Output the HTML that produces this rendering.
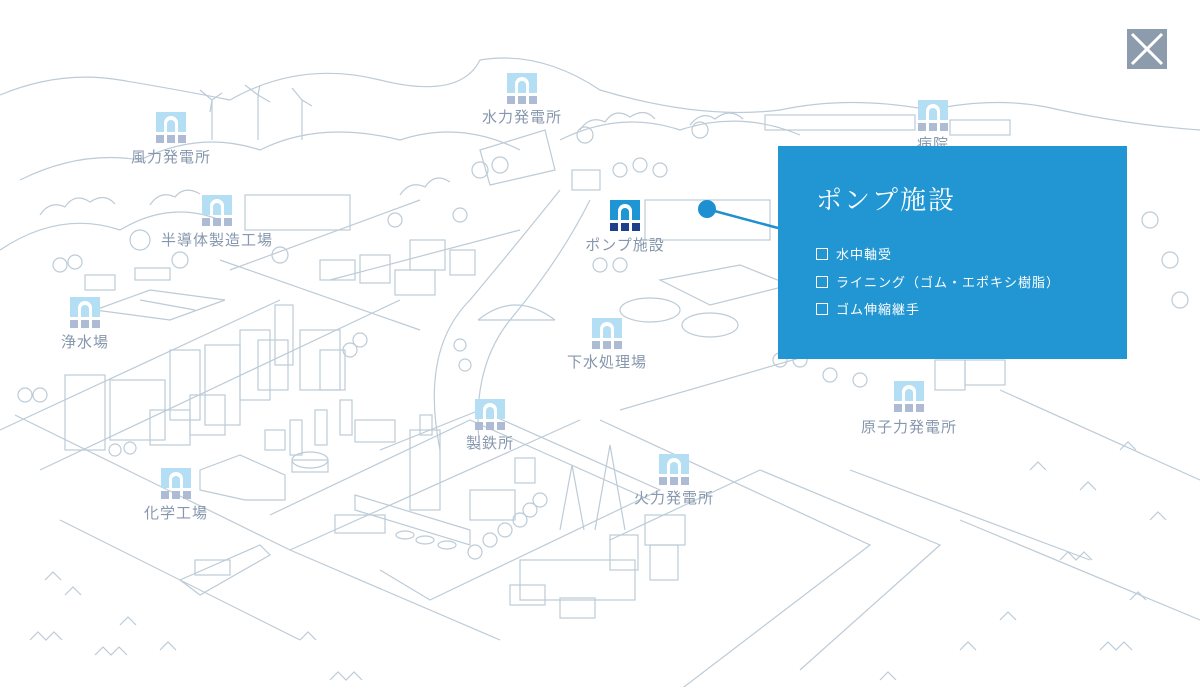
<!DOCTYPE html>
<html><head><meta charset="utf-8"><style>
html,body{margin:0;padding:0;background:#fff;}
#w{position:relative;width:1200px;height:687px;overflow:hidden;background:#fff;font-family:"Liberation Sans","Noto Sans CJK JP",sans-serif;}
.lb{position:absolute;color:#8797ad;font-size:15px;letter-spacing:1px;white-space:nowrap;transform:translateX(-50%);}
.ic{position:absolute;width:30px;height:32px;}
.ic .t{position:absolute;left:0;top:0;width:30px;height:20px;background:#b3def4;}
.ic .t:after{content:"";position:absolute;left:8px;top:4px;width:14px;height:16px;background:#fff;border-radius:7px 7px 0 0;}
.ic .t:before{content:"";position:absolute;left:11px;top:8px;width:8px;height:12px;background:#b3def4;border-radius:4px 4px 0 0;z-index:1;}
.ic .b{position:absolute;top:23px;width:8px;height:8px;background:#aebbd5;}
.ic.on .t,.ic.on .t:before{background:#1e96d6;}
.ic.on .b{background:#1d3f8c;}
#panel{position:absolute;left:778px;top:146px;width:349px;height:213px;background:#2196d3;color:#fff;}
#panel h2{margin:0;position:absolute;left:38px;top:34px;font-family:"Liberation Serif","Noto Serif CJK SC",serif;font-weight:normal;font-size:26px;letter-spacing:2px;}
#panel ul{list-style:none;margin:0;padding:0;position:absolute;left:38px;top:98px;font-size:13px;letter-spacing:1px;}
#panel li{height:27.5px;}
#panel li:before{content:"";display:inline-block;width:10px;height:10px;border:1px solid #fff;margin-right:8px;vertical-align:-1px;}
#close{position:absolute;left:1127px;top:29px;width:40px;height:40px;background:#8d9cad;}
</style></head><body><div id="w">
<svg width="1200" height="687" style="position:absolute;left:0;top:0" fill="none" stroke="#bccbd7" stroke-width="1.2">
<path d="M0 95 Q60 70 120 80 T230 100 Q300 60 380 80 T480 60 Q540 50 600 90 Q700 120 780 110 Q850 95 930 110 Q1000 95 1060 110 Q1130 125 1200 130"/>
<path d="M20 180 Q80 150 140 160 Q200 130 260 150 Q320 120 400 140 Q460 120 520 150"/>
<path d="M0 250 Q60 210 120 230 Q170 200 220 220"/>
<path d="M560 140 Q620 110 680 130 Q740 110 800 135"/>
<path d="M40 215 q10 -15 25 -8 q10 -15 25 -5 q15 -10 25 2 M150 205 q10 -15 25 -8 q10 -12 25 -3 M400 195 q10 -15 25 -8 q10 -15 25 -5 M580 130 q10 -15 25 -8 q10 -15 25 -5 q15 -10 25 2 M690 125 q12 -15 25 -6 q15 -12 28 0"/>
<path d="M0 430 L280 300 M40 470 L400 300 M15 415 L290 550 L580 420"/>
<path d="M60 520 L300 640 M600 420 L870 545 L680 690"/>
<path d="M290 550 L500 640 M270 515 L470 420 L650 500"/>
<path d="M380 450 L480 410 L660 490 L430 600 L380 570"/>
<path d="M440 450 Q420 350 470 300 Q520 240 560 190"/>
<path d="M480 450 Q470 370 510 320 Q560 260 590 200"/>
<path d="M620 410 L1000 300 M610 540 L760 470 L940 545 L800 670"/>
<path d="M850 470 L1090 560 M1000 390 L1200 480 M960 520 L1200 620"/>
<path d="M220 260 L420 330 M330 280 L520 230 M230 270 L420 200"/>
<g>
<rect x="65" y="375" width="40" height="75"/><rect x="110" y="380" width="55" height="60"/><rect x="170" y="350" width="30" height="70"/>
<rect x="205" y="345" width="35" height="80"/><rect x="240" y="330" width="30" height="70"/><rect x="275" y="305" width="18" height="60"/>
<rect x="300" y="330" width="40" height="60"/><rect x="150" y="410" width="40" height="35"/><rect x="190" y="395" width="35" height="40"/>
<rect x="258" y="340" width="30" height="50"/><rect x="320" y="350" width="25" height="40"/>
<rect x="245" y="195" width="105" height="35"/><rect x="320" y="260" width="35" height="20"/><rect x="360" y="255" width="30" height="28"/>
<rect x="410" y="240" width="35" height="30"/><rect x="395" y="270" width="40" height="25"/><rect x="450" y="250" width="25" height="25"/>
<rect x="85" y="275" width="30" height="15"/><rect x="135" y="268" width="35" height="12"/>
<path d="M95 310 L150 290 L225 300 L170 320 Z M140 300 L195 310"/>
<rect x="265" y="430" width="20" height="20"/><rect x="290" y="420" width="12" height="35"/><rect x="315" y="410" width="12" height="35"/><rect x="340" y="400" width="12" height="35"/>
<rect x="355" y="420" width="40" height="22"/><ellipse cx="310" cy="460" rx="18" ry="8"/><rect x="292" y="460" width="36" height="12"/>
<path d="M200 470 L240 455 L285 475 L285 500 L245 500 L200 490 Z"/>
<rect x="410" y="430" width="30" height="80"/><rect x="420" y="415" width="12" height="20"/><path d="M355 495 L470 530 L470 545 L355 510 Z"/>
<rect x="335" y="515" width="50" height="18"/><ellipse cx="405" cy="535" rx="9" ry="4"/><ellipse cx="425" cy="540" rx="9" ry="4"/><ellipse cx="447" cy="545" rx="9" ry="4"/>
<rect x="470" y="490" width="45" height="30"/><rect x="515" y="458" width="20" height="25"/>
<path d="M560 530 L572 465 L584 530 M595 530 L610 445 L625 530"/>
<rect x="520" y="560" width="115" height="40"/><rect x="510" y="585" width="35" height="20"/><rect x="560" y="598" width="35" height="20"/>
<rect x="645" y="515" width="40" height="30"/><rect x="610" y="535" width="28" height="35"/><rect x="650" y="545" width="28" height="35"/>
<path d="M180 580 L260 545 L270 555 L200 595 Z"/><rect x="195" y="560" width="35" height="15"/>
<path d="M480 150 L545 130 L555 170 L490 185 Z"/><rect x="572" y="170" width="28" height="20"/>
<rect x="645" y="200" width="125" height="40"/><path d="M660 280 L740 265 L790 285 L710 305 Z"/>
<ellipse cx="650" cy="310" rx="30" ry="12"/><ellipse cx="710" cy="325" rx="28" ry="12"/>
<path d="M478 320 Q515 290 555 320 M478 320 L555 320"/>
<rect x="935" y="360" width="30" height="30"/><rect x="965" y="360" width="40" height="25"/>
<rect x="765" y="115" width="150" height="15"/><rect x="950" y="120" width="60" height="15"/>
</g>
<g>
<circle cx="60" cy="265" r="7"/><circle cx="75" cy="262" r="7"/><circle cx="25" cy="395" r="7"/><circle cx="40" cy="395" r="7"/>
<circle cx="115" cy="450" r="6"/><circle cx="130" cy="448" r="6"/><circle cx="350" cy="350" r="7"/><circle cx="360" cy="340" r="7"/>
<circle cx="460" cy="215" r="7"/><circle cx="395" cy="220" r="7"/><circle cx="620" cy="170" r="7"/><circle cx="640" cy="165" r="7"/><circle cx="660" cy="170" r="7"/>
<circle cx="600" cy="265" r="7"/><circle cx="620" cy="265" r="7"/><circle cx="460" cy="345" r="6"/><circle cx="465" cy="365" r="6"/>
<circle cx="540" cy="500" r="7"/><circle cx="530" cy="510" r="7"/><circle cx="520" cy="520" r="7"/><circle cx="505" cy="530" r="7"/><circle cx="490" cy="540" r="7"/><circle cx="475" cy="552" r="7"/>
<circle cx="780" cy="360" r="7"/><circle cx="800" cy="360" r="7"/><circle cx="830" cy="375" r="7"/><circle cx="860" cy="380" r="7"/>
<circle cx="480" cy="170" r="8"/><circle cx="500" cy="165" r="8"/><circle cx="585" cy="135" r="8"/><circle cx="700" cy="130" r="8"/>
<circle cx="180" cy="260" r="8"/><circle cx="280" cy="255" r="8"/><circle cx="140" cy="240" r="10"/>
<circle cx="1150" cy="220" r="8"/><circle cx="1170" cy="260" r="8"/><circle cx="1180" cy="300" r="8"/>
</g>
<path d="M212 140 L212 100 M212 100 L200 90 M212 100 L222 93 M212 100 L210 112 M258 140 L258 95 M258 95 L245 85 M258 95 L270 102 M258 95 L260 85 M302 140 L302 100 M302 100 L292 88 M302 100 L312 106"/>
<path d="M45 580 l8 -8 l8 8 M65 595 l8 -8 l8 8 M30 640 l8 -8 l8 8 l8 -8 l8 8 M120 625 l8 -8 l8 8 M95 655 l8 -8 l8 8 l8 -8 l8 8 M160 650 l8 -8 l8 8 M300 640 l8 -8 l8 8 M330 680 l8 -8 l8 8 l8 -8 l8 8"/>
<path d="M1030 470 l8 -8 l8 8 M1080 490 l8 -8 l8 8 M1120 450 l8 -8 l8 8 M1150 520 l8 -8 l8 8 M1060 560 l8 -8 l8 8 l8 -8 l8 8 M1130 600 l8 -8 l8 8 M1000 620 l8 -8 l8 8 M1100 650 l8 -8 l8 8 l8 -8 l8 8 M960 650 l8 -8 l8 8 M880 680 l8 -8 l8 8"/>
<line x1="707" y1="209" x2="778" y2="228" stroke="#1e8fd0" stroke-width="2.5"/>
<circle cx="707" cy="209" r="9" fill="#1e8fd0" stroke="none"/>
</svg>

<div class="ic" style="left:156px;top:112px"><div class="t"></div><div class="b" style="left:0"></div><div class="b" style="left:11px"></div><div class="b" style="left:22px"></div></div><div class="lb" style="left:171px;top:146px">風力発電所</div>
<div class="ic" style="left:507px;top:73px"><div class="t"></div><div class="b" style="left:0"></div><div class="b" style="left:11px"></div><div class="b" style="left:22px"></div></div><div class="lb" style="left:522px;top:106px">水力発電所</div>
<div class="ic" style="left:918px;top:100px"><div class="t"></div><div class="b" style="left:0"></div><div class="b" style="left:11px"></div><div class="b" style="left:22px"></div></div><div class="lb" style="left:933px;top:133px">病院</div>
<div class="ic" style="left:202px;top:195px"><div class="t"></div><div class="b" style="left:0"></div><div class="b" style="left:11px"></div><div class="b" style="left:22px"></div></div><div class="lb" style="left:217px;top:229px">半導体製造工場</div>
<div class="ic on" style="left:610px;top:200px"><div class="t"></div><div class="b" style="left:0"></div><div class="b" style="left:11px"></div><div class="b" style="left:22px"></div></div><div class="lb" style="left:625px;top:234px">ポンプ施設</div>
<div class="ic" style="left:70px;top:297px"><div class="t"></div><div class="b" style="left:0"></div><div class="b" style="left:11px"></div><div class="b" style="left:22px"></div></div><div class="lb" style="left:85px;top:331px">浄水場</div>
<div class="ic" style="left:592px;top:318px"><div class="t"></div><div class="b" style="left:0"></div><div class="b" style="left:11px"></div><div class="b" style="left:22px"></div></div><div class="lb" style="left:607px;top:351px">下水処理場</div>
<div class="ic" style="left:894px;top:381px"><div class="t"></div><div class="b" style="left:0"></div><div class="b" style="left:11px"></div><div class="b" style="left:22px"></div></div><div class="lb" style="left:909px;top:416px">原子力発電所</div>
<div class="ic" style="left:475px;top:399px"><div class="t"></div><div class="b" style="left:0"></div><div class="b" style="left:11px"></div><div class="b" style="left:22px"></div></div><div class="lb" style="left:490px;top:432px">製鉄所</div>
<div class="ic" style="left:659px;top:454px"><div class="t"></div><div class="b" style="left:0"></div><div class="b" style="left:11px"></div><div class="b" style="left:22px"></div></div><div class="lb" style="left:674px;top:487px">火力発電所</div>
<div class="ic" style="left:161px;top:468px"><div class="t"></div><div class="b" style="left:0"></div><div class="b" style="left:11px"></div><div class="b" style="left:22px"></div></div><div class="lb" style="left:176px;top:502px">化学工場</div>

<div id="panel"><h2>ポンプ施設</h2><ul><li>水中軸受</li><li>ライニング（ゴム・エポキシ樹脂）</li><li>ゴム伸縮継手</li></ul></div>
<div id="close"><svg width="40" height="40"><path d="M5 5 L35 35 M35 5 L5 35" stroke="#fff" stroke-width="3"/></svg></div>
</div></body></html>
